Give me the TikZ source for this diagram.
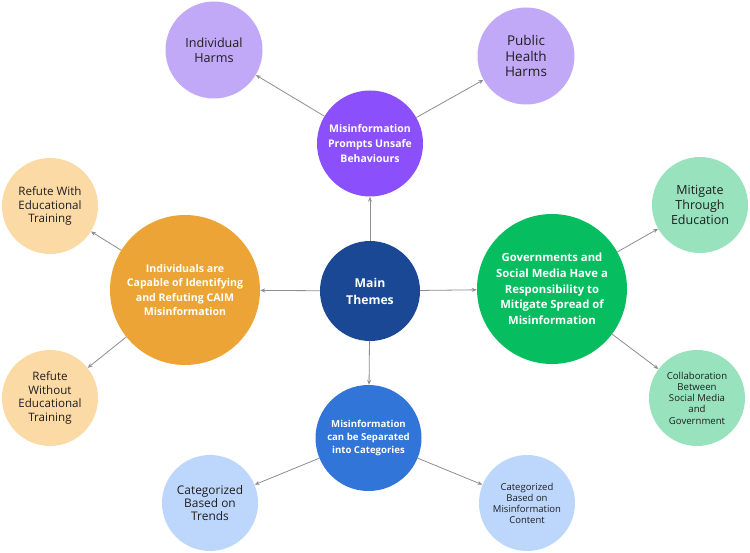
\documentclass[tikz,border=0pt]{standalone}
\usepackage{fontspec}
\setmainfont{Open Sans}
\usetikzlibrary{arrows.meta}
\definecolor{mainc}{HTML}{1A4894}
\definecolor{purp}{HTML}{8B50FC}
\definecolor{lpurp}{HTML}{C1A9F7}
\definecolor{oran}{HTML}{EBA435}
\definecolor{loran}{HTML}{FCDAA6}
\definecolor{gren}{HTML}{06BE60}
\definecolor{lgren}{HTML}{98E3BD}
\definecolor{blu}{HTML}{3175D9}
\definecolor{lblu}{HTML}{BDD7FC}
\definecolor{txtc}{HTML}{1E1E1E}
\definecolor{arrc}{HTML}{8E8E8E}
\tikzset{
  bub/.style={circle, draw=none, inner sep=0pt, minimum size=#1},
  wt/.style={text=white, align=center},
  dt/.style={text=txtc, align=center},
  arr/.style={draw=arrc, line width=0.8pt, -{Stealth[length=5pt,width=4pt]}},
}
\begin{document}
\begin{tikzpicture}[x=1pt,y=-1pt]
\useasboundingbox[fill=white] (0,0) rectangle (750,553);
% main
\node[bub=100pt, fill=mainc] (m) at (370,291) {};
\node[wt, font=\bfseries\fontsize{12.2}{17}\selectfont] (mt) at (m) {Main\\Themes};
% prompts
\node[bub=106pt, fill=purp] (p) at (370,143.5) {};
\node[wt, font=\bfseries\fontsize{10.5}{14.7}\selectfont] (pt) at (p) {Misinformation\\Prompts Unsafe\\Behaviours};
\node[bub=97pt, fill=lpurp] (ih) at (214,50) {};
\node[dt, font=\fontsize{12.6}{14.7}\selectfont] (iht) at (ih) {Individual\\Harms};
\node[bub=97pt, fill=lpurp] (ph) at (526,56) {};
\node[dt, font=\fontsize{13.5}{15.7}\selectfont] (pht) at (ph) {Public\\Health\\Harms};
% individuals
\node[bub=150pt, fill=oran] (ind) at (185,290) {};
\node[wt, font=\bfseries\fontsize{10.6}{14.5}\selectfont] (indt) at (ind) {Individuals are\\Capable of Identifying\\and Refuting CAIM\\Misinformation};
\node[bub=96pt, fill=loran] (rw) at (50,206) {};
\node[dt, font=\fontsize{11.6}{13.8}\selectfont] (rwt) at (rw) {Refute With\\Educational\\Training};
\node[bub=96pt, fill=loran] (ro) at (50,398) {};
\node[dt, font=\fontsize{11.6}{13.5}\selectfont] (rot) at (ro) {Refute\\Without\\Educational\\Training};
% governments
\node[bub=150pt, fill=gren] (g) at (552,289) {};
\node[wt, font=\bfseries\fontsize{11.3}{15.7}\selectfont] (gt) at (g) {Governments and\\Social Media Have a\\Responsibility to\\Mitigate Spread of\\Misinformation};
\node[bub=96pt, fill=lgren] (me) at (700,205) {};
\node[dt, font=\fontsize{12.5}{14.7}\selectfont] (met) at (me) {Mitigate\\Through\\Education};
\node[bub=96pt, fill=lgren] (co) at (697,398) {};
\node[dt, font=\fontsize{9.6}{11.3}\selectfont] (cot) at (co) {Collaboration\\Between\\Social Media\\and\\Government};
% categories
\node[bub=106pt, fill=blu] (c) at (368.5,438) {};
\node[wt, font=\bfseries\fontsize{9.6}{13.3}\selectfont] (ct) at (c) {Misinformation\\can be Separated\\into Categories};
\node[bub=96pt, fill=lblu] (tr) at (210,503) {};
\node[dt, font=\fontsize{11.9}{13.3}\selectfont] (trt) at (tr) {Categorized\\Based on\\Trends};
\node[bub=96pt, fill=lblu] (cc) at (527,503) {};
\node[dt, font=\fontsize{9.5}{11}\selectfont] (cct) at (cc) {Categorized\\Based on\\Misinformation\\Content};
% connectors
\draw[arr] (m) -- (p);
\draw[arr] (m) -- (ind);
\draw[arr] (m) -- (g);
\draw[arr] (m) -- (c);
\draw[arr] (p) -- (ih);
\draw[arr] (p) -- (ph);
\draw[arr] (ind) -- (rw);
\draw[arr] (ind) -- (ro);
\draw[arr] (g) -- (me);
\draw[arr] (g) -- (co);
\draw[arr] (c) -- (tr);
\draw[arr] (c) -- (cc);
\end{tikzpicture}
\end{document}
